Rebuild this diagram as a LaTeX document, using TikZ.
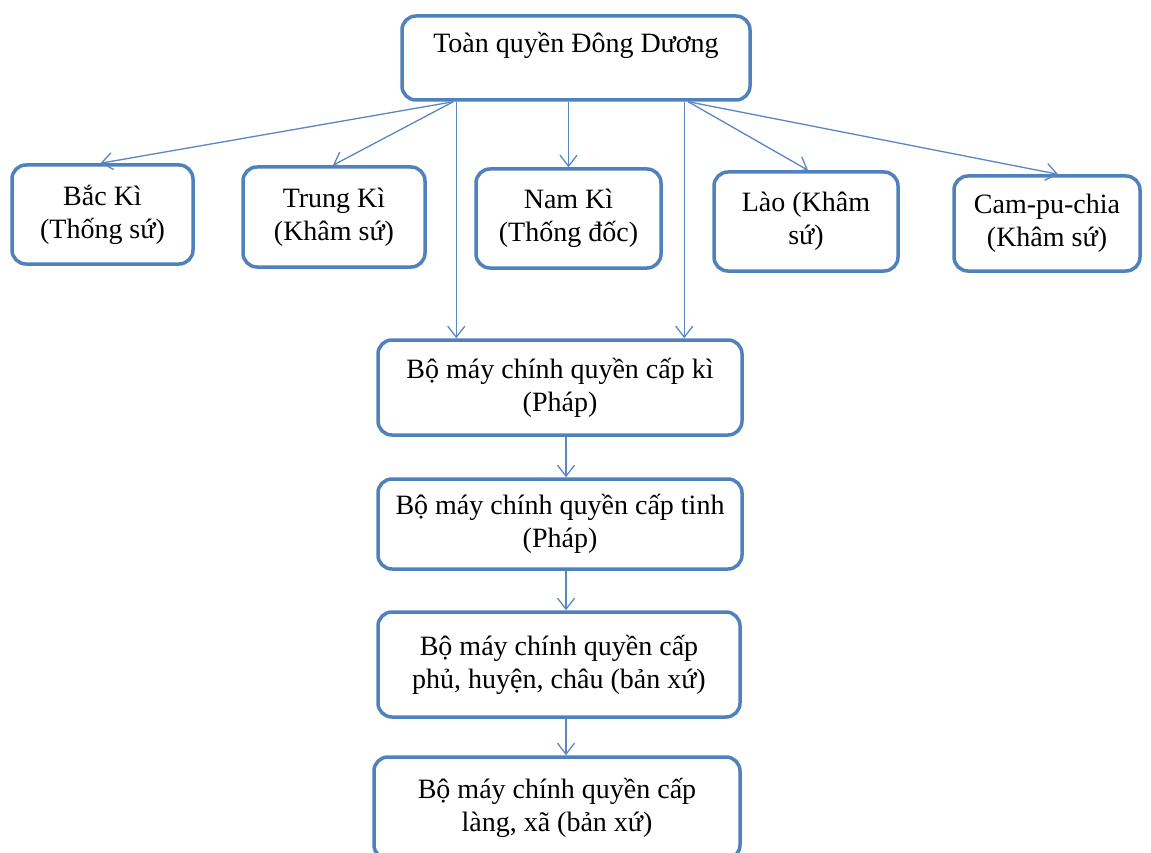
\documentclass[tikz,border=0pt]{standalone}
\usepackage{fontspec}
\setmainfont{Liberation Serif}
\usetikzlibrary{arrows.meta}
\definecolor{boxblue}{RGB}{79,129,189}
\definecolor{linkblue}{RGB}{90,135,195}
\tikzset{
  box/.style={draw=boxblue, line width=3.5pt, rounded corners=14pt, fill=white,
    align=center, inner sep=0pt, font=\fontsize{28}{33}\selectfont},
  link/.style={draw=linkblue, line width=1.3pt,
    -{Straight Barb[length=11pt,width=17pt,line width=1.3pt]}}
}
\begin{document}
\begin{tikzpicture}[x=1pt,y=-1pt]
\useasboundingbox (0,0) rectangle (1151,853);
\fill[white] (0,0) rectangle (1151,853);
\node[box, minimum width=348pt, minimum height=84pt] (top) at (576,58) {Toàn quyền Đông Dương\\[-12pt] \strut};
\node[box, minimum width=181pt, minimum height=99pt] (bac) at (102.5,214.5) {Bắc Kì\\(Thống sứ)};
\node[box, minimum width=182pt, minimum height=100pt] (trung) at (334,217) {Trung Kì\\(Khâm sứ)};
\node[box, minimum width=185pt, minimum height=99pt] (nam) at (568.5,218.5) {Nam Kì\\(Thống đốc)};
\node[box, minimum width=184pt, minimum height=99pt] (lao) at (806,221.5) {Lào (Khâm\\sứ)};
\node[box, minimum width=186pt, minimum height=95pt] (cam) at (1047,223.5) {Cam-pu-chia\\(Khâm sứ)};
\node[box, minimum width=364pt, minimum height=95pt] (ki) at (560,387.5) {Bộ máy chính quyền cấp kì\\(Pháp)};
\node[box, minimum width=364pt, minimum height=90pt] (tinh) at (560,524) {Bộ máy chính quyền cấp tinh\\(Pháp)};
\node[box, minimum width=362pt, minimum height=105pt] (phu) at (559,664.5) {Bộ máy chính quyền cấp\\phủ, huyện, châu (bản xứ)};
\node[box, minimum width=366pt, minimum height=102pt] (lang) at (557,808) {Bộ máy chính quyền cấp\\làng, xã (bản xứ)};
% connectors from the top box
\draw[link] ([xshift=53pt]top.south west) -- ([xshift=-2pt]bac.north);
\draw[link] ([xshift=53pt]top.south west) -- ([xshift=-1pt]trung.north);
\draw[link] (top.south -| nam.north) -- (nam.north);
\draw[link] ([xshift=56pt]top.south west) -- ([xshift=56pt]top.south west |- ki.north);
\draw[link] ([xshift=284pt]top.south west) -- ([xshift=284pt]top.south west |- ki.north);
\draw[link] ([xshift=288pt]top.south west) -- ([xshift=2pt]lao.north);
\draw[link] ([xshift=288pt]top.south west) -- ([xshift=11pt]cam.north);
% vertical chain
\draw[link] ([xshift=6pt]ki.south) -- ([xshift=6pt]ki.south |- tinh.north);
\draw[link] ([xshift=6pt]tinh.south) -- ([xshift=6pt]tinh.south |- phu.north);
\draw[link] ([xshift=7pt]phu.south) -- ([xshift=7pt]phu.south |- lang.north);
\end{tikzpicture}
\end{document}
